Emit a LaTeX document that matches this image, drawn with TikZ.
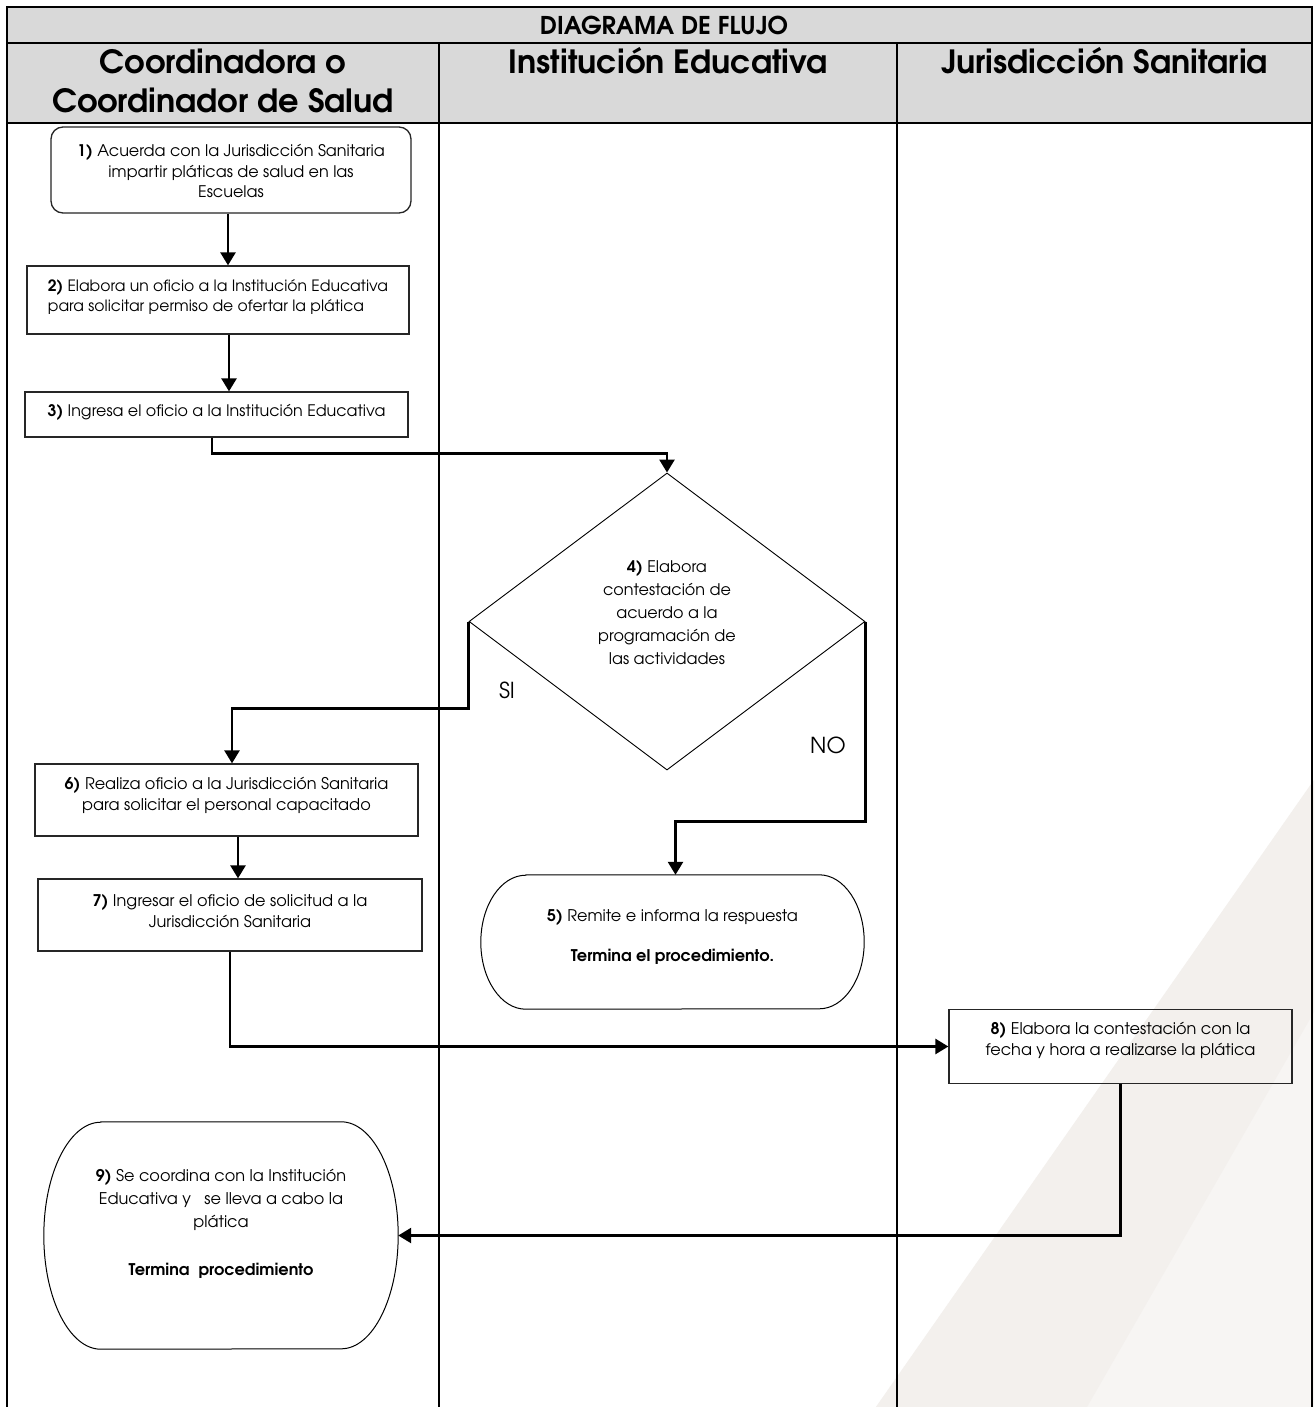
\documentclass[tikz,border=0pt]{standalone}
\usepackage{fontspec}
\setmainfont{texgyreadventor}[Extension=.otf,UprightFont=*-regular,BoldFont=*-bold,ItalicFont=*-italic,BoldItalicFont=*-bolditalic]
\usetikzlibrary{shapes.geometric,arrows.meta,calc}
\definecolor{hdr}{RGB}{217,217,217}
\definecolor{wmA}{RGB}{247,245,243}
\definecolor{wmB}{RGB}{243,240,237}
\begin{document}
\begin{tikzpicture}[x=1pt,y=-1pt,
  lane/.style={line width=2pt,black},
  conn/.style={line width=2.6pt,-{Triangle[length=13pt,width=15pt]}},
  bx/.style={draw=black!85,line width=1.3pt,rectangle,inner sep=0pt},
  rbx/.style={bx,rounded corners=12pt},
  dia/.style={draw=black,line width=0.9pt,diamond,inner sep=0pt},
  ghost/.style={rectangle,inner sep=0pt},
  txt/.style={font=\fontsize{16.1}{20.5}\selectfont,align=center,inner sep=0pt},
  hfont/.style={font=\bfseries\fontsize{32}{39}\selectfont,inner sep=0pt,anchor=base},
  lblfont/.style={font=\fontsize{22}{22}\selectfont,inner sep=0pt},
  term/.style={draw=black,line width=1pt}
]
\useasboundingbox (0,0) rectangle (1314,1407);
\fill[white] (0,0) rectangle (1314,1407);
% watermark
\fill[wmA] (1314,780) -- (876,1407) -- (1314,1407) -- cycle;
\fill[wmB] (1314,780) -- (876,1407) -- (1087,1407) -- (1314,1012) -- cycle;

% table
\fill[hdr] (7,7) rectangle (1312,123);
\draw[lane] (7,1412) -- (7,7) -- (1312,7) -- (1312,1412);
\draw[lane] (7,43) -- (1312,43);
\draw[lane] (7,123) -- (1312,123);
\draw[lane] (439,43) -- (439,1412);
\draw[lane] (897,43) -- (897,1412);

\node[font=\bfseries\fontsize{24.5}{24.5}\selectfont,inner sep=0pt] (title) at (664,25) {DIAGRAMA DE FLUJO};
\node[hfont] (h1a) at (223,74) {Coordinadora o};
\node[hfont] (h1b) at (223,113) {Coordinador de Salud};
\node[hfont] (h2) at (668,74) {Institución Educativa};
\node[hfont] (h3) at (1104.5,74) {Jurisdicción Sanitaria};

% boxes
\node[rbx,minimum width=360pt,minimum height=86pt,
  label={[txt,font=\fontsize{16}{20.5}\selectfont,yshift=-1pt]center:{\textbf{1)} Acuerda con la Jurisdicción Sanitaria\\impartir pláticas de salud en las\\Escuelas}}] (n1) at (231,170) {};
\node[bx,minimum width=382pt,minimum height=68pt,
  label={[txt,font=\fontsize{15.6}{20.5}\selectfont,align=left,yshift=3pt]center:{\textbf{2)} Elabora un oficio a la Institución Educativa\\para solicitar permiso de ofertar la plática}}] (n2) at (218,300) {};
\node[bx,minimum width=383pt,minimum height=45pt,
  label={[txt,font=\fontsize{15.9}{20.5}\selectfont,yshift=2pt]center:{\textbf{3)} Ingresa el oficio a la Institución Educativa}}] (n3) at (216.5,414.5) {};
\node[dia,minimum width=396pt,minimum height=297pt,
  label={[txt,font=\fontsize{16}{23}\selectfont,yshift=8.5pt]center:{\textbf{4)} Elabora\\contestación de\\acuerdo a la\\programación de\\las actividades}}] (n4) at (667,621.5) {};
\node[ghost,minimum width=383pt,minimum height=134pt,
  label={[txt,yshift=5pt]center:{\textbf{5)} Remite e informa la respuesta\\[19.5pt]\textbf{Termina el procedimiento.}}}] (n5) at (672.5,942) {};
\node[bx,minimum width=383pt,minimum height=72pt,
  label={[txt,yshift=4.5pt]center:{\textbf{6)} Realiza oficio a la Jurisdicción Sanitaria\\para solicitar el personal capacitado}}] (n6) at (226.5,800) {};
\node[bx,minimum width=384pt,minimum height=72pt,
  label={[txt,yshift=4pt]center:{\textbf{7)} Ingresar el oficio de solicitud a la\\Jurisdicción Sanitaria}}] (n7) at (230,915) {};
\node[bx,minimum width=343pt,minimum height=74pt,
  label={[txt,yshift=6pt]center:{\textbf{8)} Elabora la contestación con la\\fecha y hora a realizarse la plática}}] (n8) at (1120.5,1046.5) {};
\node[ghost,minimum width=354pt,minimum height=227pt,
  label={[txt,font=\fontsize{16.1}{23}\selectfont,yshift=11.5pt]center:{\textbf{9)} Se coordina con la Institución\\Educativa y \ \ se lleva a cabo la\\plática\\[25pt]\textbf{Termina \ procedimiento}}}] (n9) at (221,1235.5) {};

% terminal outlines
\draw[term] ($(n5.north west)+(45,0)$) -- ($(n5.north east)+(-45,0)$)
  arc[start angle=-90,end angle=90,x radius=45,y radius=67]
  -- ($(n5.south west)+(45,0)$)
  arc[start angle=90,end angle=270,x radius=45,y radius=67] -- cycle;
\draw[term] ($(n9.north west)+(57,0)$) -- ($(n9.north east)+(-57,0)$)
  arc[start angle=-90,end angle=90,x radius=57,y radius=113.5]
  -- ($(n9.south west)+(57,0)$)
  arc[start angle=90,end angle=270,x radius=57,y radius=113.5] -- cycle;

% labels
\node[lblfont] (si) at (507,690) {SI};
\node[lblfont] (no) at (828,745) {NO};

% connectors
\coordinate (c1) at ([xshift=-3pt]n1.south);
\draw[conn] (c1) -- (c1 |- n2.north);
\coordinate (c2) at ([xshift=11pt]n2.south);
\draw[conn] (c2) -- (c2 |- n3.north);
\coordinate (c3) at ([xshift=-4.5pt]n3.south);
\draw[conn] (c3) -- ++(0,16) -| (n4.north);
\coordinate (c6) at ([xshift=5.5pt]n6.north);
\draw[conn] (n4.west) -- ++(0,87) -| (c6);
\coordinate (c5) at ([xshift=3pt]n5.north);
\draw[conn] (n4.east) -- ++(0,200) -| (c5);
\coordinate (c67) at ([xshift=11.5pt]n6.south);
\draw[conn] (c67) -- (c67 |- n7.north);
\draw[conn] (n7.south) |- (n8.west);
\draw[conn] (n8.south) |- (n9.east);
\end{tikzpicture}
\end{document}
